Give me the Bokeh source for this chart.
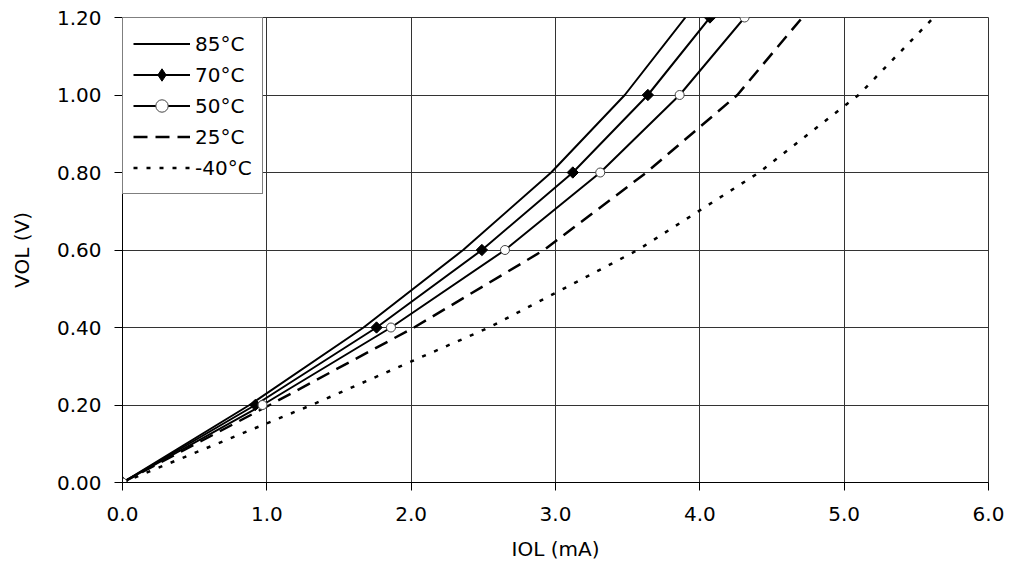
import math
from bokeh.plotting import figure
from bokeh.models import Range1d, FixedTicker, NumeralTickFormatter, Legend, LegendItem, ColumnDataSource
from bokeh.embed import file_html
from bokeh.resources import INLINE

# ---- data ----
vol = [0.0, 0.2, 0.4, 0.6, 0.8, 1.0, 1.2]
iol_85 = [0.0, 0.88, 1.67, 2.36, 2.97, 3.48, 3.90]
iol_70 = [0.0, 0.92, 1.76, 2.49, 3.12, 3.64, 4.07]
iol_50 = [0.0, 0.97, 1.86, 2.65, 3.31, 3.86, 4.31]
iol_25 = [0.0, 1.02, 2.02, 2.92, 3.63, 4.26, 4.71]
iol_m40 = [0.0, 1.31, 2.54, 3.57, 4.41, 5.10, 5.62]

labels = ["85°C", "70°C", "50°C", "25°C", "-40°C"]
x_ticks = [0, 1, 2, 3, 4, 5, 6]
y_ticks = [0.0, 0.2, 0.4, 0.6, 0.8, 1.0, 1.2]

FONT = "DejaVu Sans"

p = figure(width=1005, height=567, output_backend="svg", toolbar_location=None,
           x_range=Range1d(0, 6), y_range=Range1d(0, 1.2),
           min_border_left=122, min_border_right=17, min_border_top=17, min_border_bottom=85)
p.background_fill_color = "white"
p.border_fill_color = "white"
p.outline_line_color = "#333333"
p.outline_line_width = 1

for ax in (p.xaxis[0], p.yaxis[0]):
    ax.axis_line_color = "black"
    ax.axis_line_width = 1
    ax.major_tick_line_color = "black"
    ax.major_tick_in = 0
    ax.major_tick_out = 8
    ax.minor_tick_line_color = None
    ax.major_label_text_font = FONT
    ax.major_label_text_font_size = "20px"
    ax.major_label_text_color = "black"
    ax.axis_label_text_font = FONT
    ax.axis_label_text_font_size = "20px"
    ax.axis_label_text_font_style = "normal"
    ax.axis_label_text_color = "black"

p.xaxis.ticker = FixedTicker(ticks=x_ticks)
p.yaxis.ticker = FixedTicker(ticks=y_ticks)
p.xaxis.formatter = NumeralTickFormatter(format="0.0")
p.yaxis.formatter = NumeralTickFormatter(format="0.00")
p.xaxis.axis_label = "IOL (mA)"
p.yaxis.axis_label = "VOL (V)"
p.xaxis.major_label_standoff = 16
p.yaxis.major_label_standoff = 13
p.xaxis.axis_label_standoff = 13
p.yaxis.axis_label_standoff = 20

p.xgrid.ticker = FixedTicker(ticks=x_ticks)
p.ygrid.ticker = FixedTicker(ticks=y_ticks)
for g in (p.xgrid[0], p.ygrid[0]):
    g.grid_line_color = "#333333"
    g.grid_line_width = 1

series = [iol_85, iol_70, iol_50, iol_25, iol_m40]
styles = [
    dict(line_color="black", line_width=2),
    dict(line_color="black", line_width=2),
    dict(line_color="black", line_width=2),
    dict(line_color="black", line_width=2.5, line_dash="14 8"),
    dict(line_color="black", line_width=2.5, line_dash="4 9"),
]

sources = [ColumnDataSource(dict(x=s, y=vol)) for s in series]
lines = [p.line("x", "y", source=src, **st) for src, st in zip(sources, styles)]

# markers on the curves
m70 = p.scatter("x", "y", source=sources[1], marker="square", angle=math.pi / 4, size=8,
                fill_color="black", line_color="black")
m50 = p.scatter("x", "y", source=sources[2], marker="circle", size=9,
                fill_color="white", line_color="#444444", line_width=1)

# legend-only marker samples (no visible data points)
nan = float("nan")
leg70 = p.scatter(x=[nan], y=[nan], marker="diamond", size=13,
                  fill_color="black", line_color="black")
leg50 = p.scatter(x=[nan], y=[nan], marker="circle", size=8,
                  fill_color="white", line_color="#444444", line_width=1)

legend = Legend(items=[
    LegendItem(label=labels[0], renderers=[lines[0]]),
    LegendItem(label=labels[1], renderers=[lines[1], leg70]),
    LegendItem(label=labels[2], renderers=[lines[2], leg50]),
    LegendItem(label=labels[3], renderers=[lines[3]]),
    LegendItem(label=labels[4], renderers=[lines[4]]),
], location="top_left")
legend.margin = 0
legend.padding = 10
legend.spacing = 0
legend.glyph_width = 57
legend.glyph_height = 31
legend.label_height = 31
legend.label_standoff = 5
legend.label_text_font = FONT
legend.label_text_font_size = "20px"
legend.label_text_color = "black"
legend.border_line_color = "black"
legend.border_line_width = 1
legend.background_fill_color = "white"
legend.background_fill_alpha = 1.0
p.add_layout(legend)

open("out.html", "w").write(file_html(p, INLINE))
